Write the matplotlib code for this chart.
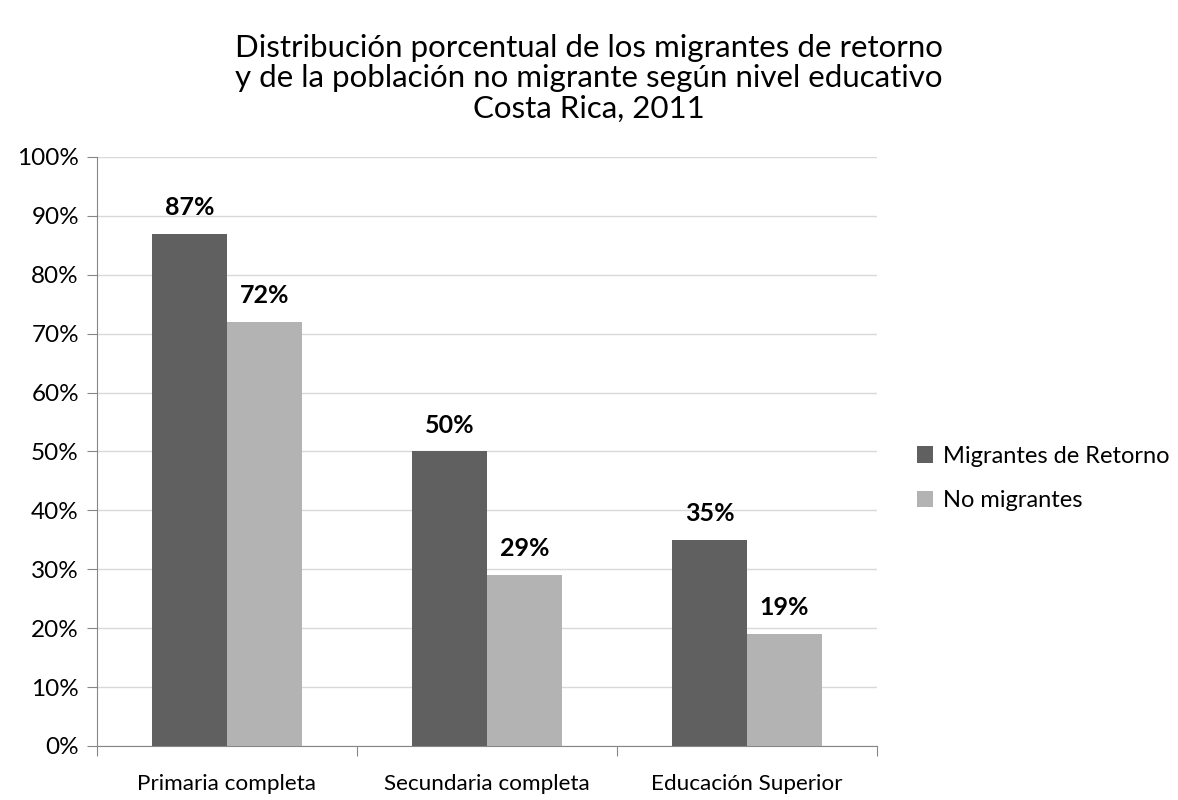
import matplotlib
matplotlib.use("Agg")
import matplotlib.pyplot as plt
import numpy as np

plt.rcParams['font.family'] = ['Lato', 'DejaVu Sans']

categorias = ["Primaria completa", "Secundaria completa", "Educación Superior"]
retorno = [87, 50, 35]
no_migrantes = [72, 29, 19]
series_labels = ["Migrantes de Retorno", "No migrantes"]
titulo = ("Distribución porcentual de los migrantes de retorno\n"
          "y de la población no migrante según nivel educativo\n"
          "Costa Rica, 2011")

fig = plt.figure(figsize=(11.78, 8), dpi=100)
ax = fig.add_axes([0.0823, 0.0675, 0.6622, 0.7363])

x = np.arange(len(categorias))
w = 0.288
b1 = ax.bar(x - w/2, retorno, w, color="#606060", label=series_labels[0], zorder=3)
b2 = ax.bar(x + w/2, no_migrantes, w, color="#b3b3b3", label=series_labels[1], zorder=3)

for bars, vals in [(b1, retorno), (b2, no_migrantes)]:
    for r, v in zip(bars, vals):
        ax.text(r.get_x() + r.get_width()/2, v + 2.5, f"{v}%", ha="center", va="bottom",
                fontsize=18, fontweight="bold", color="black")

ax.set_xlim(-0.5, 2.5)
ax.set_ylim(0, 100)
ax.set_yticks(np.arange(0, 101, 10))
ax.set_yticklabels([f"{v}%" for v in range(0, 101, 10)], fontsize=17.5)
ax.yaxis.grid(True, color="#d9d9d9", linewidth=1, zorder=0)
ax.set_axisbelow(True)

ax.set_xticks([-0.5, 0.5, 1.5, 2.5])
ax.set_xticklabels([])
ax.set_xticks(x, minor=True)
ax.set_xticklabels(categorias, minor=True, fontsize=16.2)
ax.tick_params(axis="x", which="minor", length=0, pad=20)
ax.tick_params(axis="x", which="major", length=7, color="#868686", direction="out")
ax.tick_params(axis="y", length=7, color="#868686", direction="out", pad=6)

for s in ["top", "right"]:
    ax.spines[s].set_visible(False)
for s in ["left", "bottom"]:
    ax.spines[s].set_color("#868686")

fig.text(0.5, 0.9575, titulo, ha="center", va="top", fontsize=22.5, linespacing=1.1)

fig.legend(handles=[b1, b2], labels=series_labels, loc="center left",
           bbox_to_anchor=(0.76, 0.402), frameon=False, fontsize=17,
           handlelength=0.7, handleheight=0.7, handletextpad=0.4, labelspacing=1.0)

fig.savefig("out.png", dpi=100)
